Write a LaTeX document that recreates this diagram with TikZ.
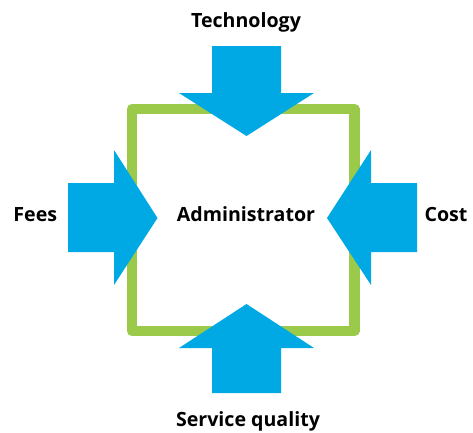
\documentclass[tikz,border=0pt]{standalone}
\usepackage{fontspec}
\setmainfont{Open Sans}
\definecolor{arrowblue}{RGB}{0,169,228}
\definecolor{framegreen}{RGB}{155,202,74}
\tikzset{
  label text/.style={font=\fontsize{19.6}{19.6}\selectfont\bfseries, anchor=base, inner sep=0pt},
  blockarrow/.style={fill=arrowblue, draw=none},
  frame/.style={draw=framegreen, line width=10.5pt, line join=round}
}
\begin{document}
\begin{tikzpicture}[x=1pt,y=-1pt]
\useasboundingbox (0,0) rectangle (473,432);
% frame
\coordinate (tl) at (132,109);
\coordinate (br) at (354.5,331);
\draw[frame] (tl) rectangle (br);
% arrows
\fill[blockarrow] (212,46) -- (281,46) -- (281,93) -- (314,93) -- (246.5,136) -- (179,93) -- (212,93) -- cycle;
\fill[blockarrow] (212,393) -- (281,393) -- (281,348) -- (314,348) -- (246.5,304) -- (179,348) -- (212,348) -- cycle;
\fill[blockarrow] (68,183) -- (114,183) -- (114,150) -- (157.5,218) -- (114,285) -- (114,252) -- (68,252) -- cycle;
\fill[blockarrow] (417,183) -- (371,183) -- (371,150) -- (327,218) -- (371,285) -- (371,252) -- (417,252) -- cycle;
% labels
\node[label text] (tech) at (246,27.7) {Technology};
\node[label text] (fees) at (35.3,221.7) {Fees};
\node[label text] (cost) at (446,221.7) {Cost};
\node[label text] (serv) at (248,426.7) {Service quality};
\node[label text] (admin) at (246,221.7) {Administrator};
\end{tikzpicture}
\end{document}
